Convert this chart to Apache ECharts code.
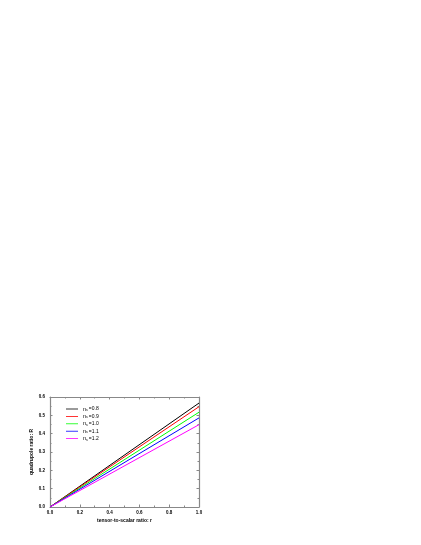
<!DOCTYPE html>
<html>
<head>
<meta charset="utf-8">
<script src="https://cdn.jsdelivr.net/npm/echarts@6/dist/echarts.min.js"></script>
<style>
  html, body { margin: 0; padding: 0; background: #fff; }
  #chart { width: 421px; height: 545px; }
</style>
</head>
<body>
<div id="chart"></div>
<script>
// values
var nValues = ['0.8', '0.9', '1.0', '1.1', '1.2'];
var colors = ['#000000', '#ff0000', '#00ff00', '#0000ff', '#ff00ff'];
var rPoints = [0, 1];
var R08 = [0, 0.567];
var R09 = [0, 0.547];
var R10 = [0, 0.517];
var R11 = [0, 0.486];
var R12 = [0, 0.449];
var xTicks = ['0.0', '0.2', '0.4', '0.6', '0.8', '1.0'];
var yTicks = ['0.0', '0.1', '0.2', '0.3', '0.4', '0.5', '0.6'];

var chart = echarts.init(document.getElementById('chart'));
var allR = [R08, R09, R10, R11, R12];

var series = [];
for (var i = 0; i < nValues.length; i++) {
    var pts = [];
    for (var j = 0; j < rPoints.length; j++) pts.push([rPoints[j], allR[i][j]]);
    series.push({
        name: nValues[i],
        type: 'line',
        data: pts,
        showSymbol: false,
        lineStyle: { color: colors[i], width: 1 },
        itemStyle: { color: colors[i] },
        animation: false
    });
}

var axisCol = '#888';
var lblStyle = { fontSize: 4.5, fontWeight: 'bold', color: '#000', fontFamily: 'Liberation Sans' };

function xAx(pos, show) {
    return {
        type: 'value', min: 0, max: 1, interval: 0.2, position: pos,
        axisLine: { show: true, onZero: false, lineStyle: { color: axisCol, width: 1.2 } },
        axisTick: { show: true, inside: true, length: 2.5, lineStyle: { color: axisCol } },
        minorTick: { show: true, splitNumber: 2, length: 1.5, lineStyle: { color: axisCol } },
        splitLine: { show: false },
        axisLabel: show ? Object.assign({ margin: 3, formatter: function (v) { return xTicks[Math.round(v / 0.2)]; } }, lblStyle) : { show: false },
        name: show ? 'tensor-to-scalar ratio: r' : '',
        nameLocation: 'middle', nameGap: 11,
        nameTextStyle: { fontSize: 5, fontWeight: 'bold', color: '#000', fontFamily: 'Liberation Sans' }
    };
}
function yAx(pos, show) {
    return {
        type: 'value', min: 0, max: 0.6, interval: 0.1, position: pos,
        axisLine: { show: true, onZero: false, lineStyle: { color: axisCol, width: 1.2 } },
        axisTick: { show: true, inside: true, length: 2.5, lineStyle: { color: axisCol } },
        minorTick: { show: true, splitNumber: 2, length: 1.5, lineStyle: { color: axisCol } },
        splitLine: { show: false },
        axisLabel: show ? Object.assign({ margin: 5, formatter: function (v) { return yTicks[Math.round(v / 0.1)]; } }, lblStyle) : { show: false },
        name: show ? 'quadrupole ratio: R' : '',
        nameLocation: 'middle', nameGap: 16,
        nameTextStyle: { fontSize: 5, fontWeight: 'bold', color: '#000', fontFamily: 'Liberation Sans' }
    };
}

var legendData = [];
for (var k = 0; k < nValues.length; k++) {
    legendData.push({ name: nValues[k], itemStyle: { color: colors[k] } });
}

var option = {
    backgroundColor: '#fff',
    grid: { left: 50, right: 222, top: 397, bottom: 38 },
    legend: {
        orient: 'vertical',
        left: 61, top: 401,
        icon: 'rect',
        itemWidth: 12, itemHeight: 0.8, itemGap: 1.4,
        data: legendData,
        formatter: function (name) { return '{n|n}{s|s}{v|=' + name + '}'; },
        textStyle: {
            fontSize: 5, lineHeight: 6, color: '#000', fontFamily: 'Liberation Sans',
            rich: {
                n: { fontSize: 5.5, lineHeight: 6, color: '#000' },
                s: { fontSize: 3.5, lineHeight: 6, color: '#000', verticalAlign: 'bottom', padding: [2, 0, 0, 0] },
                v: { fontSize: 5, lineHeight: 6, color: '#000', padding: [0, 0, 0, 1] }
            }
        }
    },
    xAxis: [xAx('bottom', true), xAx('top', false)],
    yAxis: [yAx('left', true), yAx('right', false)],
    series: series
};
chart.setOption(option);
</script>
</body>
</html>
